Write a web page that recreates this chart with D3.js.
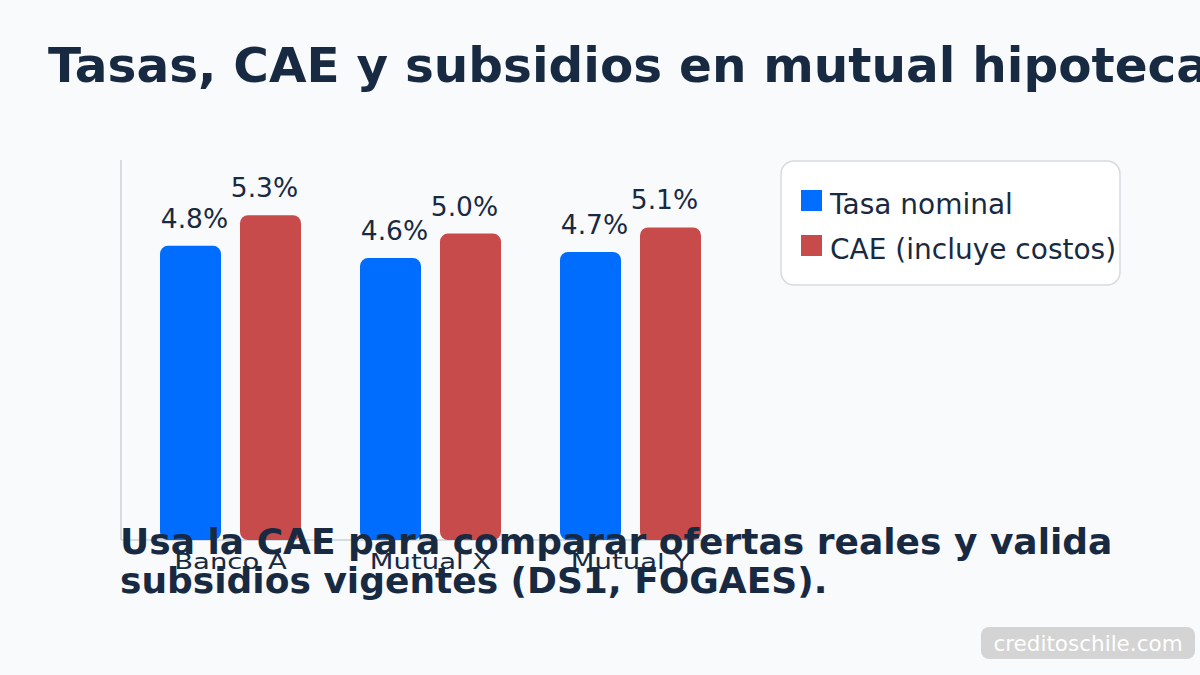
<!DOCTYPE html>
<html>
<head>
<meta charset="utf-8">
<script src="https://cdn.jsdelivr.net/npm/d3@7/dist/d3.min.js"></script>
<style>
  html, body { margin: 0; padding: 0; background: #f8fafc; }
  svg { display: block; font-family: "DejaVu Sans", sans-serif; }
</style>
</head>
<body>
<svg class="chart"></svg>
<script>
// data
var categories = ['Banco A', 'Mutual X', 'Mutual Y'];
var seriesNames = ['Tasa nominal', 'CAE (incluye costos)'];
var tasaNominal = [4.8, 4.6, 4.7];
var cae = [5.3, 5.0, 5.1];
var seriesColors = ['#006dff', '#c84b4b'];

var title = 'Tasas, CAE y subsidios en mutual hipotecaria';
var note = ['Usa la CAE para comparar ofertas reales y valida',
            'subsidios vigentes (DS1, FOGAES).'];
var watermark = 'creditoschile.com';

// chart
var width = 1200;
var height = 675;
var textColor = '#182a42';
var labelShift = [4, -6]; // value labels sit a little toward the group centre

var svg = d3.select('.chart')
    .attr('width', width)
    .attr('height', height);

svg.append('rect')
    .attr('width', width)
    .attr('height', height)
    .attr('fill', '#f8fafc');

var rows = categories.map(function(c, i) {
  return {cat: c, values: [tasaNominal[i], cae[i]]};
});

var x0 = d3.scaleBand()
    .domain(categories)
    .range([130, 730]);

var x1 = d3.scaleBand()
    .domain(d3.range(seriesNames.length))
    .range([30, 171])
    .paddingInner(0.2375);

var y = d3.scaleLinear()
    .domain([0, 6.2])
    .range([540, 160]);

// the category labels in the original are drawn wide
function stretch(sel, factor) {
  sel.each(function() {
    var w = this.getComputedTextLength();
    d3.select(this)
      .attr('textLength', w * factor)
      .attr('lengthAdjust', 'spacingAndGlyphs');
  });
}

// axes lines
svg.append('line')
    .attr('x1', 121).attr('x2', 121)
    .attr('y1', y(6.2)).attr('y2', y(0))
    .attr('stroke', '#cbd2db').attr('stroke-width', 1.5);

svg.append('line')
    .attr('x1', 121).attr('x2', 740)
    .attr('y1', y(0)).attr('y2', y(0))
    .attr('stroke', '#cbd2db').attr('stroke-width', 1.5);

// bars
var groups = svg.selectAll('.group')
    .data(rows)
  .enter().append('g')
    .attr('class', 'group')
    .attr('transform', function(d) { return 'translate(' + x0(d.cat) + ',0)'; });

groups.selectAll('rect')
    .data(function(d) { return d.values.map(function(v, i) { return {v: v, i: i}; }); })
  .enter().append('rect')
    .attr('x', function(d) { return x1(d.i); })
    .attr('y', function(d) { return y(d.v); })
    .attr('width', x1.bandwidth())
    .attr('height', function(d) { return y(0) - y(d.v); })
    .attr('rx', 8)
    .attr('fill', function(d) { return seriesColors[d.i]; });

groups.selectAll('.val')
    .data(function(d) { return d.values.map(function(v, i) { return {v: v, i: i}; }); })
  .enter().append('text')
    .attr('class', 'val')
    .attr('x', function(d) { return x1(d.i) + x1.bandwidth() / 2 + labelShift[d.i]; })
    .attr('y', function(d) { return y(d.v) - 18; })
    .attr('text-anchor', 'middle')
    .attr('font-size', 26.5)
    .attr('fill', textColor)
    .text(function(d) { return d.v.toFixed(1) + '%'; });

// category labels
svg.selectAll('.cat')
    .data(categories)
  .enter().append('text')
    .attr('class', 'cat')
    .attr('x', function(d) { return x0(d) + 100.5; })
    .attr('y', 569)
    .attr('text-anchor', 'middle')
    .attr('font-size', 20.5)
    .attr('fill', textColor)
    .text(function(d) { return d; })
    .call(stretch, 1.34);

// legend
var legend = svg.append('g').attr('transform', 'translate(781,161)');
legend.append('rect')
    .attr('width', 339).attr('height', 124)
    .attr('rx', 13)
    .attr('fill', '#ffffff')
    .attr('stroke', '#d6dadf').attr('stroke-width', 1.5);

var items = legend.selectAll('.item')
    .data(seriesNames)
  .enter().append('g')
    .attr('class', 'item')
    .attr('transform', function(d, i) { return 'translate(20,' + (29 + i * 45) + ')'; });

items.append('rect')
    .attr('width', 21).attr('height', 21)
    .attr('fill', function(d, i) { return seriesColors[i]; });

items.append('text')
    .attr('x', 29).attr('y', 24)
    .attr('font-size', 28)
    .attr('fill', textColor)
    .text(function(d) { return d; });

// title
svg.append('text')
    .attr('x', 48).attr('y', 82)
    .attr('font-size', 48.5)
    .attr('font-weight', 'bold')
    .attr('fill', textColor)
    .text(title);

// footnote, drawn over the chart like the original
svg.selectAll('.note')
    .data(note)
  .enter().append('text')
    .attr('class', 'note')
    .attr('x', 120)
    .attr('y', function(d, i) { return 554 + i * 39; })
    .attr('font-size', 36)
    .attr('font-weight', 'bold')
    .attr('fill', textColor)
    .text(function(d) { return d; });

// watermark
svg.append('rect')
    .attr('x', 981).attr('y', 627)
    .attr('width', 214).attr('height', 32)
    .attr('rx', 8)
    .attr('fill', '#d4d4d4');

svg.append('text')
    .attr('x', 1088).attr('y', 651)
    .attr('text-anchor', 'middle')
    .attr('font-size', 21.5)
    .attr('fill', '#ffffff')
    .text(watermark);
</script>
</body>
</html>
